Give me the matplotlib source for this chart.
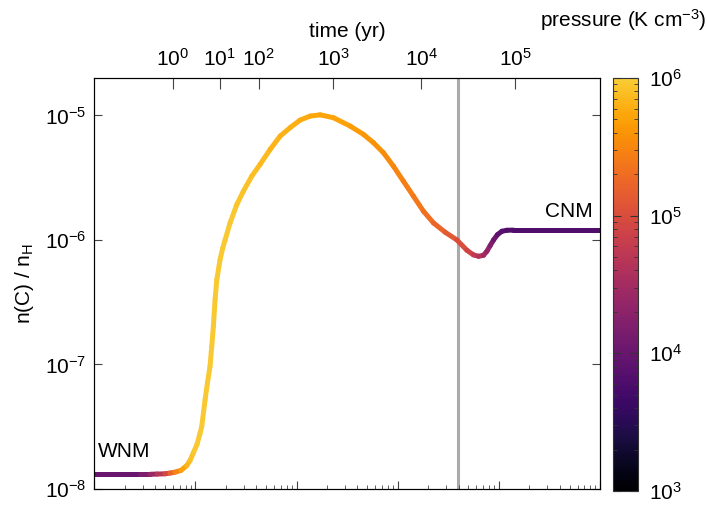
import numpy as np
import matplotlib
matplotlib.use('Agg')
from matplotlib import pyplot as plt
from matplotlib.collections import LineCollection
from matplotlib.colors import LogNorm, ListedColormap

plt.rcParams['font.family'] = ['Liberation Sans', 'DejaVu Sans']
plt.rcParams['mathtext.default'] = 'regular'
plt.rcParams['font.size'] = 15

# curve (bottom axis in decades, abundance, pressure)
log_x = [0.0, 0.452, 0.551, 0.620, 0.699, 0.749, 0.798, 0.858, 0.914, 0.947,
         0.979, 1.016, 1.045, 1.062, 1.095, 1.118, 1.144, 1.161, 1.177, 1.194,
         1.211, 1.243, 1.270, 1.293, 1.342, 1.409, 1.474, 1.557, 1.639, 1.738,
         1.837, 1.936, 2.035, 2.134, 2.233, 2.364, 2.529, 2.661, 2.760, 2.859,
         2.957, 3.056, 3.155, 3.254, 3.353, 3.469, 3.585, 3.684, 3.749, 3.799,
         3.848, 3.881, 3.914, 3.947, 3.986, 4.030, 4.079, 4.144, 5.0]
log_abund = [-7.882, -7.882, -7.882, -7.880, -7.878, -7.872, -7.865, -7.850, -7.812, -7.77,
             -7.71, -7.64, -7.553, -7.499, -7.284, -7.15, -7.016, -6.855, -6.694, -6.479,
             -6.319, -6.158, -6.064, -6.0, -5.863, -5.715, -5.608, -5.487, -5.393, -5.273,
             -5.166, -5.098, -5.037, -5.005, -4.995, -5.018, -5.085, -5.152, -5.219, -5.30,
             -5.407, -5.528, -5.648, -5.769, -5.863, -5.938, -6.0, -6.083, -6.12, -6.131,
             -6.123, -6.091, -6.045, -6.0, -5.957, -5.93, -5.922, -5.921, -5.921]
log_pressure = [3.95, 4.05, 4.3, 4.55, 4.8, 5.1, 5.35, 5.6, 5.8, 5.9,
                5.95, 5.97, 5.97, 5.97, 5.97, 5.97, 5.97, 5.97, 5.97, 5.97,
                5.97, 5.97, 5.97, 5.97, 5.97, 5.95, 5.93, 5.9, 5.88, 5.85,
                5.82, 5.8, 5.78, 5.76, 5.74, 5.72, 5.68, 5.64, 5.6, 5.56,
                5.52, 5.47, 5.42, 5.35, 5.28, 5.18, 5.06, 4.93, 4.82, 4.7,
                4.55, 4.42, 4.28, 4.12, 3.97, 3.87, 3.82, 3.8, 3.78]

# top axis: time labels and where they sit on the bottom scale
time_exp = [0, 1, 2, 3, 4, 5]
time_tick_logx = [0.778, 1.240, 1.626, 2.364, 3.232, 4.161]

marker_logx = 3.597

x = 10 ** np.array(log_x)
y = 10 ** np.array(log_abund)
p = 10 ** np.array(log_pressure)

cmap = ListedColormap(plt.get_cmap('inferno')(np.linspace(0, 0.88, 256)))
norm = LogNorm(1e3, 1e6)

fig = plt.figure(figsize=(7.07, 5.09), dpi=100)
ax = fig.add_axes([0.1334, 0.0393, 0.7153, 0.8075])
ax.set_xscale('log')
ax.set_yscale('log')
ax.set_xlim(1, 1e5)
ax.set_ylim(1e-8, 2e-5)

ax.axvline(10 ** marker_logx, color='#aaaaaa', lw=2.2, zorder=1)

pts = np.column_stack([x, y]).reshape(-1, 1, 2)
segs = np.concatenate([pts[:-1], pts[1:]], axis=1)
seg_p = np.sqrt(p[:-1] * p[1:])
lc = LineCollection(segs, cmap=cmap, norm=norm, linewidths=3.6, capstyle='round',
                    joinstyle='round', zorder=2)
lc.set_array(seg_p)
ax.add_collection(lc)

ax.text(10 ** 0.04, 2.0e-8, 'WNM', ha='left', va='center')
ax.text(10 ** 4.93, 1.69e-6, 'CNM', ha='right', va='center')

ax.tick_params(which='both', direction='in', top=False, right=True, labelbottom=False,
               color='#444444')
ax.tick_params(which='major', length=6)
ax.tick_params(which='minor', length=3)
ax.tick_params(axis='y', pad=6)
ax.set_ylabel('n(C) / n$_H$', labelpad=6)

top = ax.twiny()
top.set_xscale('log')
top.set_xlim(ax.get_xlim())
top.set_xticks(10 ** np.array(time_tick_logx))
top.set_xticklabels(['$10^{%d}$' % e for e in time_exp])
top.minorticks_off()
top.tick_params(direction='in', length=8, pad=6, color='#444444')
top.set_xlabel('time (yr)', labelpad=8)

cax = fig.add_axes([0.867, 0.0354, 0.0354, 0.8114])
sm = plt.cm.ScalarMappable(norm=norm, cmap=cmap)
cb = fig.colorbar(sm, cax=cax)
cb.minorticks_on()
cb.outline.set_edgecolor('#333333')
cax.tick_params(which='both', direction='in', left=True, right=True, color='#333333')
cax.tick_params(which='major', length=6, pad=8)
cax.tick_params(which='minor', length=3)
fig.text(0.881, 0.96, 'pressure (K cm$^{-3}$)', ha='center', va='center')

fig.savefig('out.png', dpi=100)
